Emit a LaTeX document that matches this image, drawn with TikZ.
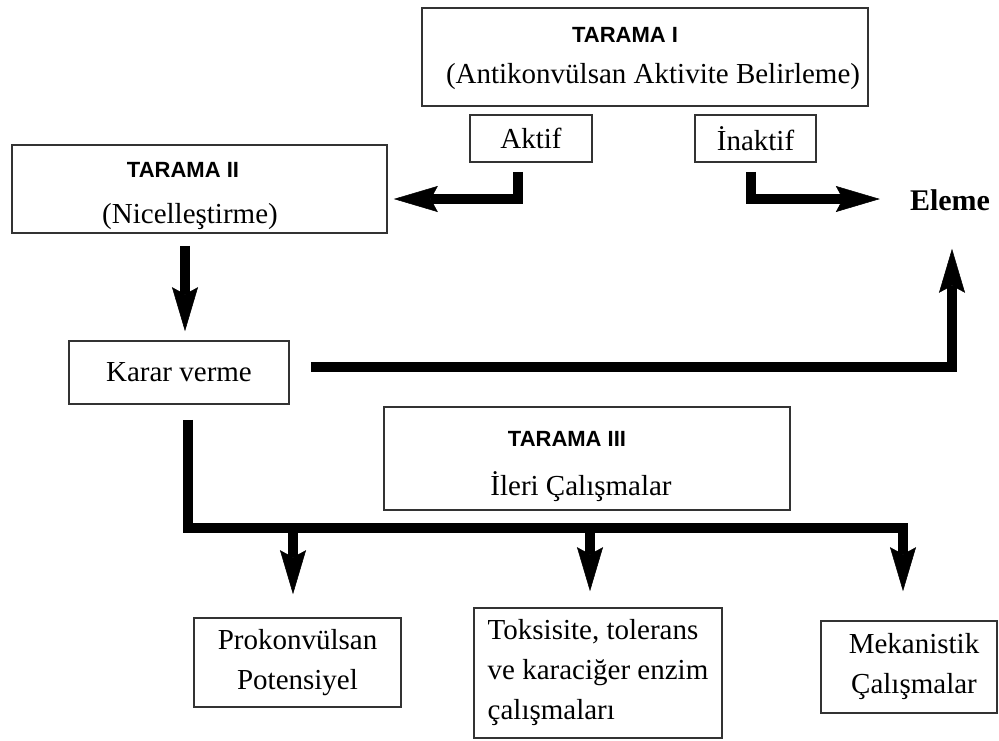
\documentclass[tikz,border=0pt]{standalone}
\usepackage{fontspec}
\setmainfont{Liberation Serif}
\setsansfont{Liberation Sans}
\usetikzlibrary{arrows.meta,positioning,calc}

\begin{document}
\begin{tikzpicture}[x=1pt, y=-1pt,
    box/.style={draw=black!80, line width=1.6pt, inner sep=0pt, align=center, font=\fontsize{29}{40}\selectfont},
    ttl/.style={inner sep=0pt, font=\sffamily\bfseries\fontsize{22}{26}\selectfont},
    txt/.style={inner sep=0pt, font=\fontsize{29}{40}\selectfont},
    lin/.style={line width=9.5pt, black},
    arr/.style={lin, -{Stealth[length=44pt, width=26pt, inset=7pt, line width=0.5pt]}},
]
\useasboundingbox (0,0) rectangle (999,740);

% screening I
\node[box, minimum width=446pt, minimum height=98pt] (t1) at (645,57) {};
\node[ttl] (t1a) at (625,35) {TARAMA I};
\node[txt] (t1b) at (653,77) {(Antikonvülsan Aktivite Belirleme)};
\node[box, minimum width=122pt, minimum height=47pt] (aktif) at (531,138.5) {Aktif};
\node[box, minimum width=121pt, minimum height=47pt] (inaktif) at (755.5,138.5) {İnaktif};

% screening II
\node[box, minimum width=375pt, minimum height=88pt] (t2) at (199.5,189) {};
\node[ttl] (t2a) at (183,170) {TARAMA II};
\node[txt] (t2b) at (190,217) {(Nicelleştirme)};
\node[font=\bfseries\fontsize{30}{36}\selectfont, inner sep=0pt] (eleme) at (950,200) {Eleme};
\node[box, minimum width=220pt, minimum height=63pt] (karar) at (179,372.5) {Karar verme};

% screening III
\node[box, minimum width=406pt, minimum height=103pt] (t3) at (587,458.5) {};
\node[ttl] (t3a) at (567,439) {TARAMA III};
\node[txt] (t3b) at (581,487) {İleri Çalışmalar};

\node[box, minimum width=207pt, minimum height=89pt] (prok) at (297.5,662.5) {Prokonvülsan\\Potensiyel};
\node[box, align=left, minimum width=248pt, minimum height=130pt] (toks) at (598,673) {Toksisite, tolerans\\ve karaciğer enzim\\çalışmaları\hspace*{8pt}};
\node[box, minimum width=176pt, minimum height=92pt] (mek) at (909,667) {\hspace*{10pt}Mekanistik\\\hspace*{10pt}Çalışmalar};

\coordinate (bus) at (188,528);

\draw[arr, shorten <=9pt, shorten >=6pt] (aktif.south -| 518,0) |- (t2.east |- 0,199);
\draw[arr, shorten <=9pt, shorten >=30pt] (inaktif.south -| 751,0) |- (eleme.west |- 0,199);
\draw[arr, shorten <=12pt, shorten >=9pt] (t2.south -| 185,0) -- (karar.north -| 185,0);
\draw[arr, shorten <=21pt, shorten >=38pt] (karar.east |- 0,367) -| (eleme.south -| 952,0);
\draw[arr, shorten <=15pt, shorten >=29pt] (karar.south -| bus) |- (bus -| 903,0) -- (mek.north -| 903,0);
\draw[arr, shorten >=23pt] (bus -| 293,0) -- (prok.north -| 293,0);
\draw[arr, shorten >=16pt] (bus -| 590,0) -- (toks.north -| 590,0);
\end{tikzpicture}
\end{document}
